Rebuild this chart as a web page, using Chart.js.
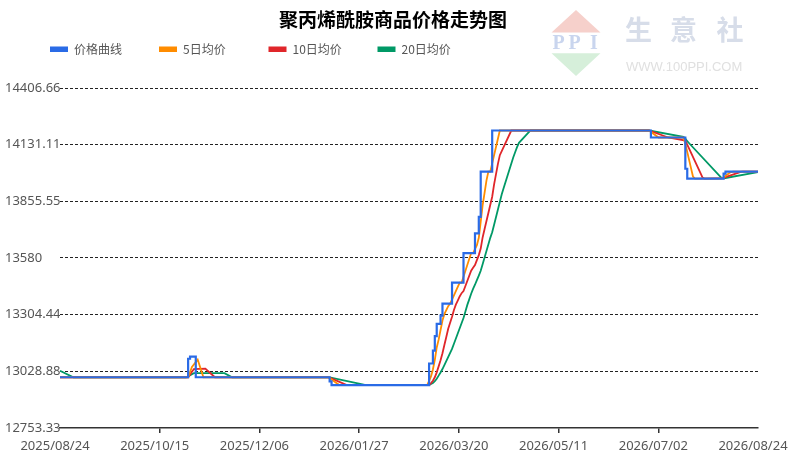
<!DOCTYPE html>
<html><head><meta charset="utf-8">
<script src="https://cdn.jsdelivr.net/npm/chart.js@4"></script>
<style>html,body{margin:0;padding:0;background:#fff}#c{display:block}</style>
</head><body>
<canvas id="c" width="790" height="458"></canvas>
<script>
// ---- data (x = days since 2025/08/24) ----
const titleText = '聚丙烯酰胺商品价格走势图';
const seriesNames = ['价格曲线', '5日均价', '10日均价', '20日均价'];
const seriesColors = ['#2a6be6', '#ff8c00', '#e0262a', '#009966'];
const xTickLabels = ['2025/08/24', '2025/10/15', '2025/12/06', '2026/01/27', '2026/03/20', '2026/05/11', '2026/07/02', '2026/08/24'];
const yTickValues = [12753.33, 13028.885, 13304.44, 13580, 13855.555, 14131.11, 14406.66];
const yTickLabels = ['12753.33', '13028.88', '13304.44', '13580', '13855.55', '14131.11', '14406.66'];

const priceDays   = [0, 67, 68, 71, 141, 142, 193, 195, 196, 197, 199, 200, 205, 211, 217, 219, 220, 226, 309, 327, 328, 347, 348, 365];
const priceValues = [13000, 13090, 13100, 13000, 12980, 12962, 13067, 13130, 13200, 13260, 13300, 13358, 13460, 13604, 13700, 13780, 14000, 14200, 14166, 14014, 13966, 13990, 14000, 14000];

const ma5Days   = [0, 67, 69, 72, 75, 140, 141, 146, 192, 193, 194, 195, 196, 197, 198, 199, 200, 201, 202, 203, 204, 205, 209, 210, 211, 215, 216, 217, 218, 219, 220, 221, 222, 223, 224, 225, 226, 230, 308, 313, 326, 327, 328, 329, 330, 331, 332, 346, 347, 348, 349, 350, 351, 352, 365];
const ma5Values = [13000, 13000, 13050, 13086, 13000, 13000, 12996, 12962, 12962, 12983, 13004, 13038, 13085, 13145, 13183, 13230, 13276, 13307, 13327, 13346, 13358, 13378, 13460, 13460, 13489, 13604, 13604, 13623, 13642, 13678, 13757, 13836, 13896, 13956, 14000, 14000, 14040, 14200, 14200, 14166, 14166, 14136, 14096, 14056, 14016, 13976, 13966, 13966, 13971, 13979, 13986, 13993, 13998, 14000, 14000];

const ma10Days   = [0, 67, 70, 76, 81, 140, 141, 150, 193, 194, 195, 196, 197, 198, 199, 200, 201, 202, 203, 204, 205, 206, 207, 208, 209, 210, 211, 212, 215, 216, 217, 218, 219, 220, 221, 222, 226, 227, 228, 229, 230, 236, 308, 318, 327, 328, 335, 336, 337, 347, 348, 356, 357, 365];
const ma10Values = [13000, 13000, 13040, 13042, 13000, 13000, 12998, 12962, 12962, 12972, 12983, 13000, 13024, 13053, 13083, 13117, 13157, 13196, 13236, 13265, 13294, 13327, 13353, 13373, 13393, 13409, 13419, 13444, 13518, 13532, 13546, 13570, 13594, 13626, 13680, 13720, 13878, 13938, 13988, 14038, 14080, 14200, 14200, 14166, 14151, 14131, 13991, 13971, 13966, 13968, 13973, 13999, 14000, 14000];

const ma20Days   = [0, 7, 66, 70, 86, 90, 140, 141, 160, 193, 194, 195, 196, 197, 198, 199, 200, 201, 205, 206, 211, 212, 213, 214, 215, 216, 217, 218, 219, 220, 221, 225, 226, 227, 231, 232, 237, 238, 239, 240, 246, 308, 326, 327, 328, 329, 346, 347, 348, 365];
const ma20Values = [13032, 13000, 13000, 13020, 13020, 13000, 13000, 12999, 12962, 12962, 12967, 12972, 12981, 12993, 13008, 13023, 13040, 13059, 13138, 13163, 13288, 13320, 13352, 13379, 13406, 13430, 13450, 13472, 13494, 13518, 13550, 13678, 13705, 13742, 13890, 13920, 14069, 14094, 14119, 14140, 14200, 14200, 14169, 14160, 14148, 14138, 13968, 13967, 13969, 13998];

function pts(days, vals) { return days.map((d, i) => ({ x: d, y: vals[i] })); }

const watermark = {
  id: 'watermark',
  beforeDraw(chart) {
    const c = chart.ctx;
    c.save();
    c.fillStyle = '#f6d0cb';
    c.beginPath(); c.moveTo(576, 10); c.lineTo(600.5, 32.5); c.lineTo(551.5, 32.5); c.closePath(); c.fill();
    c.fillStyle = '#d6efda';
    c.beginPath(); c.moveTo(551.5, 53.3); c.lineTo(600.5, 53.3); c.lineTo(576, 76); c.closePath(); c.fill();
    c.fillStyle = '#c9d5ee';
    c.font = 'bold 20px "Liberation Serif"';
    c.textAlign = 'left'; c.textBaseline = 'alphabetic';
    c.fillText('P', 552.5, 48.5); c.fillText('P', 568.5, 48.5); c.fillText('I', 590, 48.5);
    c.fillStyle = '#d7dde9';
    c.font = 'bold 27px "Noto Sans CJK SC"';
    c.textAlign = 'center'; c.textBaseline = 'middle';
    c.fillText('生', 638.5, 30); c.fillText('意', 683.5, 30); c.fillText('社', 730, 30);
    c.fillStyle = '#e0e0e0';
    c.font = '13px "Liberation Sans"';
    c.textAlign = 'left';
    c.fillText('WWW.100PPI.COM', 626, 67.5);
    c.restore();
  }
};

const titleLegend = {
  id: 'titleLegend',
  afterDraw(chart) {
    const c = chart.ctx;
    c.save();
    c.fillStyle = '#000';
    c.font = 'bold 19px "Noto Sans CJK SC"';
    c.textAlign = 'center'; c.textBaseline = 'middle';
    c.fillText(titleText, 393, 20);
    const lx = [50, 159, 268.5, 377.5];
    c.font = '12px "Noto Sans CJK SC"';
    c.textAlign = 'left';
    chart.data.datasets.forEach((ds, i) => {
      c.fillStyle = ds.borderColor;
      c.fillRect(lx[i], 46.5, 18, 5.5);
      c.fillStyle = '#555';
      c.fillText(ds.label, lx[i] + 24, 49.5);
    });
    c.restore();
  }
};

const lineBase = { pointRadius: 0, pointHoverRadius: 0, tension: 0, fill: false };

new Chart(document.getElementById('c'), {
  type: 'line',
  data: {
    datasets: [
      Object.assign({ label: seriesNames[0], data: pts(priceDays, priceValues), borderColor: seriesColors[0], borderWidth: 2.2, stepped: 'before' }, lineBase),
      Object.assign({ label: seriesNames[1], data: pts(ma5Days, ma5Values), borderColor: seriesColors[1], borderWidth: 1.8 }, lineBase),
      Object.assign({ label: seriesNames[2], data: pts(ma10Days, ma10Values), borderColor: seriesColors[2], borderWidth: 1.8 }, lineBase),
      Object.assign({ label: seriesNames[3], data: pts(ma20Days, ma20Values), borderColor: seriesColors[3], borderWidth: 1.8 }, lineBase)
    ]
  },
  options: {
    responsive: false,
    animation: false,
    layout: { padding: { top: 88, left: 5, right: 32, bottom: 0 } },
    plugins: { legend: { display: false }, title: { display: false }, tooltip: { enabled: false } },
    scales: {
      x: {
        type: 'linear', min: 0, max: 365,
        afterBuildTicks: s => { s.ticks = xTickLabels.map((_, i) => ({ value: i * 365 / (xTickLabels.length - 1) })); },
        afterFit: s => { s.height = 30; s.paddingLeft = 0; s.paddingRight = 0; },
        ticks: { callback: (v, i) => xTickLabels[i], autoSkip: false, maxRotation: 0, minRotation: 0, color: '#555', font: { family: '"Noto Sans"', size: 13 }, padding: 5, labelOffset: -5 },
        grid: { drawOnChartArea: false, drawTicks: true, tickLength: 5, lineWidth: 1.5, color: ctx => (ctx.index > 0 && ctx.index < xTickLabels.length - 1) ? '#333' : 'rgba(0,0,0,0)' },
        border: { display: true, color: '#333', width: 1.5 }
      },
      y: {
        type: 'linear', min: yTickValues[0], max: yTickValues[yTickValues.length - 1],
        afterBuildTicks: s => { s.ticks = yTickValues.map(v => ({ value: v })); },
        afterFit: s => { s.width = 55; },
        ticks: { callback: (v, i) => yTickLabels[i], crossAlign: 'far', color: '#555', font: { family: '"Noto Sans"', size: 13 }, padding: 0 },
        grid: { drawTicks: false, tickLength: 0, lineWidth: 1, color: ctx => ctx.index === 0 ? 'rgba(0,0,0,0)' : '#222' },
        border: { display: false, dash: [3, 2] }
      }
    }
  },
  plugins: [watermark, titleLegend]
});
</script>
</body></html>
